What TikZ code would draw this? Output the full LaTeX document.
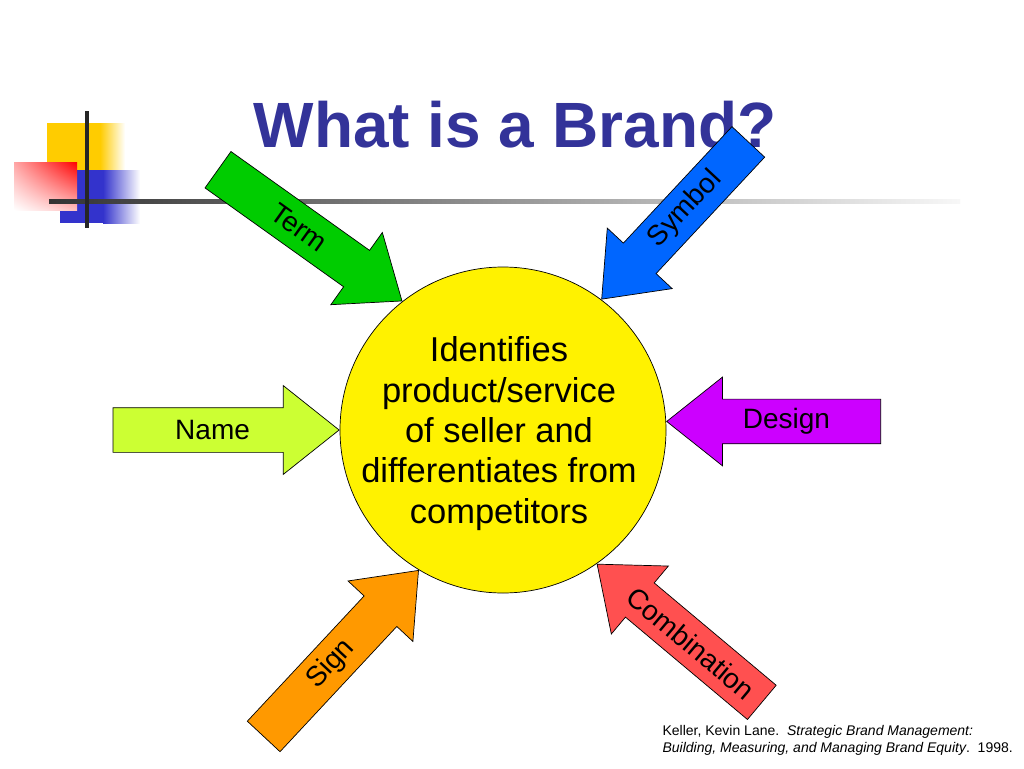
\documentclass[tikz,border=0pt]{standalone}
\usepackage{fontspec}
\setmainfont{Liberation Sans}
\usetikzlibrary{shapes.arrows,shadings,calc}
\definecolor{titleblue}{RGB}{51,51,153}
\definecolor{termgreen}{RGB}{0,204,0}
\definecolor{symbolblue}{RGB}{0,102,255}
\definecolor{namelime}{RGB}{204,255,51}
\definecolor{designpurple}{RGB}{204,0,255}
\definecolor{signorange}{RGB}{255,153,0}
\definecolor{combired}{RGB}{255,80,80}
\definecolor{decoyellow}{RGB}{255,204,0}
\definecolor{decoblue}{RGB}{51,51,204}

\begin{document}
\begin{tikzpicture}[x=1pt,y=-1pt,
    brandarrow/.style={single arrow,draw,line width=0.7pt,inner xsep=0pt,inner ysep=22pt,
      single arrow head extend=22pt,single arrow tip angle=77,anchor=tip},
    arrowlabel/.style={font=\fontsize{28}{32}\selectfont},
    brandcircle/.style={circle,draw,line width=0.7pt,fill=yellow,minimum size=326pt,inner sep=0pt}]
  \useasboundingbox[fill=white] (0,0) rectangle (1024,768);
  \fill[decoyellow] (47,123) rectangle (100,172);
  \shade[left color=decoyellow,right color=white] (100,123) rectangle (125,172);
  \fill[decoblue] (60,170) rectangle (103,223);
  \shade[left color=decoblue,right color=white] (103,170) rectangle (140,223);
  \shade[upper right=red,upper left=red!35,lower right=red!25,lower left=white] (14,162) rectangle (77,210);
  \shade[left color=black!80,right color=black!3] (49,199) rectangle (960,203);
  \draw[line width=3.5pt,black!85] (87,111) -- (87,228);
  \node[font=\fontsize{64}{70}\bfseries\selectfont,text=titleblue,anchor=base] (title) at (515,147) {What is a Brand?};
  \node[brandcircle] (brand) at (503,430) {};
  \node[align=center,font=\fontsize{34.5}{40.3}\selectfont] (def) at ([xshift=-4pt,yshift=-3.5pt]brand.center)
    {Identifies\\product/service\\ of seller and\\differentiates from\\competitors};
  \node[brandarrow,fill=termgreen,rotate=-35.5,minimum height=226pt] (term) at (brand.128) {};
  \node[brandarrow,fill=symbolblue,rotate=-133,minimum height=215pt] (symbol) at (brand.53) {};
  \node[brandarrow,fill=namelime,minimum height=226pt] (name) at (brand.180) {};
  \node[brandarrow,fill=designpurple,rotate=180,minimum height=214pt] (design) at (brand.3) {};
  \node[brandarrow,fill=signorange,rotate=47,minimum height=227pt] (sign) at (brand.239) {};
  \node[brandarrow,fill=combired,rotate=140,minimum height=215pt] (combination) at (brand.305) {};
  \begin{scope}[arrowlabel]
    \node[rotate=-35.5] (termtext) at ($(term.tail)!0.44!(term.tip)$) {Term};
    \node[rotate=47] (symboltext) at ($(symbol.tail)!0.43!(symbol.tip)$) {Symbol};
    \node (nametext) at ($(name.tail)!0.44!(name.tip)$) {Name};
    \node (designtext) at ($(design.tail)!0.44!(design.tip)$) {Design};
    \node[rotate=47] (signtext) at ($(sign.tail)!0.435!(sign.tip)$) {Sign};
    \node[rotate=-40] (combinationtext) at ($(combination.tail)!0.43!(combination.tip)$) {Combination};
  \end{scope}
  \node[anchor=base west,align=left,font=\fontsize{14}{17.7}\selectfont] (source) at (659,752.7)
    {Keller, Kevin Lane.\ \ \textit{Strategic Brand Management:}\\
     \textit{Building, Measuring, and Managing Brand Equity}.\ \ 1998.};
\end{tikzpicture}
\end{document}
